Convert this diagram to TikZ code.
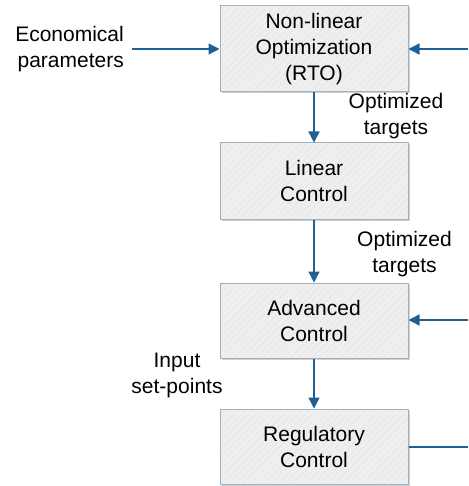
\documentclass[tikz,border=0pt]{standalone}
\usepackage{fontspec}
\setmainfont{Liberation Sans}
\usetikzlibrary{arrows.meta,shadows,patterns.meta}
\definecolor{flow}{HTML}{1F5F94}
\definecolor{boxedge}{HTML}{9DB2C4}
\definecolor{boxfill}{HTML}{EFEFEF}
\definecolor{hatch}{HTML}{E5E5E5}
\begin{document}
\begin{tikzpicture}[x=1pt,y=-1pt,
  every node/.style={font=\fontsize{21pt}{26pt}\selectfont},
  layer/.style={draw=boxedge, line width=1pt, fill=boxfill,
    path picture={\fill[pattern={Lines[angle=45,distance=5pt,line width=0.6pt]}, pattern color=hatch]
      (path picture bounding box.south west) rectangle (path picture bounding box.north east);},
    minimum width=188pt, align=center, inner sep=0pt,
    drop shadow={shadow xshift=1.5pt, shadow yshift=-1.5pt, fill=black, opacity=0.18}},
  label/.style={align=center, inner sep=0pt},
  flowline/.style={draw=flow, line width=1.4pt},
  flowarrow/.style={flowline, -{Triangle[length=11pt,width=11pt]}}]
\useasboundingbox (0,0) rectangle (468,486);

% the four control layers
\node[layer, minimum height=86pt] (rto) at (314,49) {Non-linear\\Optimization\\(RTO)};
\node[layer, minimum height=76pt] (lin) at (314,181) {Linear\\Control};
\node[layer, minimum height=75pt] (adv) at (314,320.5) {Advanced\\Control};
\node[layer, minimum height=75pt] (reg) at (314,446.5) {Regulatory\\Control};

% labels
\node[label, anchor=east, align=right] (eco) at (124,49) {Economical\\parameters};
\node[label] (opt1) at (396,116.5) {Optimized\\targets};
\node[label] (opt2) at (404.5,254.5) {Optimized\\targets};
\node[label] (inp) at (177,375) {Input\\set-points};

% external ends on the right edge
\coordinate (inR) at (468,49);
\coordinate (advR) at (468,320);
\coordinate (regR) at (468,447);

% signal flow
\draw[flowarrow] (132,49) -- (rto.west);
\draw[flowarrow] (inR) -- (rto.east);
\draw[flowarrow] (rto) -- (lin);
\draw[flowarrow] (lin) -- (adv);
\draw[flowarrow] (adv) -- (reg);
\draw[flowarrow] (advR) -- (adv.east |- advR);
\draw[flowline] (reg.east |- regR) -- (regR);
\end{tikzpicture}
\end{document}
